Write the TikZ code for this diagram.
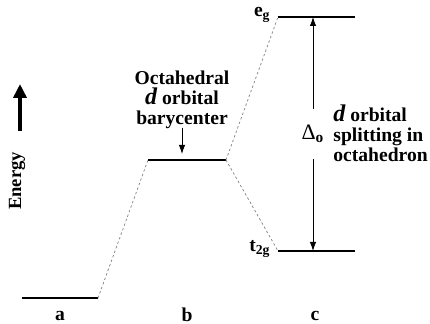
\documentclass[tikz,border=0pt]{standalone}
\usepackage{fontspec}
\setmainfont{Liberation Serif}
\usetikzlibrary{arrows.meta,positioning}
\tikzset{level/.style={line width=1pt},
  corr/.style={gray,line width=0.35pt,dash pattern=on 1.2pt off 1.2pt},
  lbl/.style={font=\bfseries\fontsize{9.8}{10}\selectfont,inner sep=0pt},
  arr/.style={-{Latex[length=4.5pt,width=3.2pt]},line width=0.4pt}}

\begin{document}
\begin{tikzpicture}[x=0.5pt,y=-0.5pt]
\useasboundingbox (0,0) rectangle (430,324);
% energy levels
\coordinate (a1) at (22,298); \coordinate (a2) at (98,298);
\coordinate (b1) at (148,160); \coordinate (b2) at (226,160);
\coordinate (e1) at (278,17); \coordinate (e2) at (355,17);
\coordinate (t1) at (278,251); \coordinate (t2) at (355,251);
\draw[level] (a1)--(a2);
\draw[level] (b1)--(b2);
\draw[level] (e1)--(e2);
\draw[level] (t1)--(t2);
\draw[corr] (a2)--(b1);
\draw[corr] (b2)--(e1);
\draw[corr] (b2)--(t1);
% energy axis
\coordinate (en0) at (20,131); \coordinate (en1) at (20,84);
\draw[line width=2pt,-{Triangle[length=7pt,width=6.5pt]}] (en0)--(en1);
\node[lbl,font=\bfseries\fontsize{9.3}{9}\selectfont,rotate=90] (energy) at (17,181) {Energy};
% labels
\node[lbl] (la) at (60,316) {a};
\node[lbl] (lb) at (187,315) {b};
\node[lbl] (lc) at (315,316) {c};
\node[lbl,anchor=east] (eg) at (271,15) {e\textsubscript{g}};
\node[lbl,anchor=east] (t2g) at (271,249) {t\textsubscript{2g}};
% barycenter
\node[lbl,align=center] (bary) at (182,100) {Octahedral\\{\large\itshape d} orbital\\barycenter};
\coordinate (bar0) at (182,128); \coordinate (bar1) at (182,154);
\draw[arr] (bar0)--(bar1);
% splitting
\coordinate (dtop) at (313,17); \coordinate (dbot) at (313,251);
\node[font=\fontsize{11}{11}\selectfont,inner xsep=0pt,minimum height=25pt] (delta) at (313,134) {Δ\textsubscript{\bfseries o}};
\draw[arr] (delta)--(dtop);
\draw[arr] (delta)--(dbot);
\node[lbl,align=left,anchor=west] (split) at (333,133) {{\large\itshape d} orbital\\splitting in\\octahedron};
\end{tikzpicture}
\end{document}
